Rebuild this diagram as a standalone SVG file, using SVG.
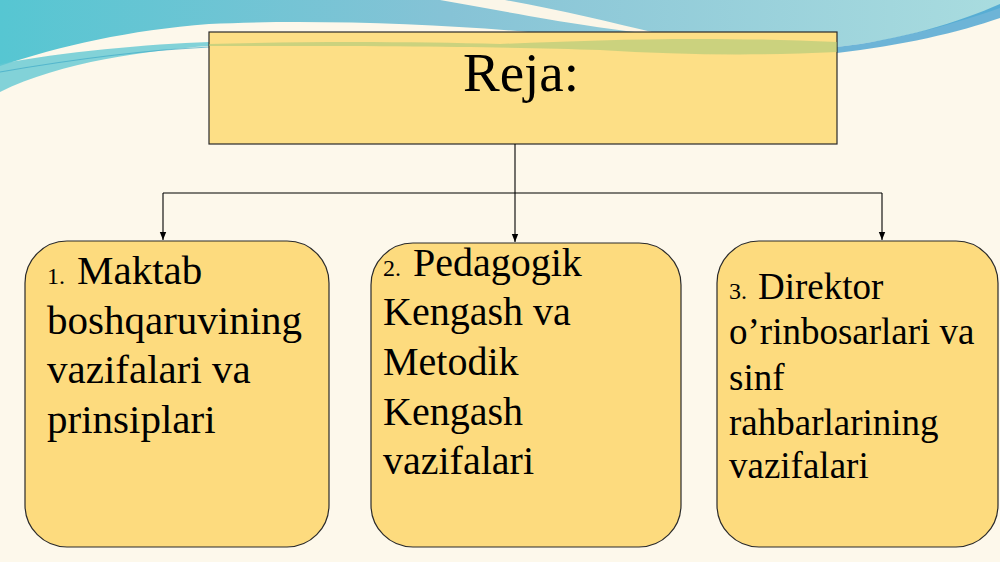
<svg xmlns="http://www.w3.org/2000/svg" width="1000" height="562" viewBox="0 0 1000 562">
  <defs>
    <linearGradient id="sky" x1="0" y1="0" x2="1" y2="0">
      <stop offset="0" stop-color="#56C6D2"/>
      <stop offset="0.45" stop-color="#86C3D6"/>
      <stop offset="1" stop-color="#A9DCDF"/>
    </linearGradient>
    <marker id="arr" viewBox="0 0 8 8" refX="8" refY="4" markerWidth="8" markerHeight="8" markerUnits="userSpaceOnUse" orient="auto">
      <path d="M0,0.8 L8,4 L0,7.2 Z" fill="#000"/>
    </marker>
    <style>
      .box { fill: #FDDB7E; stroke: #2a2a2a; stroke-width: 1.2; }
      .conn { fill: none; stroke: #000; stroke-width: 1.1; }
      .t { font-family: "Liberation Serif", "Times New Roman", serif; fill: #000; }
      .n1 { font-size: 41px; }
      .n2 { font-size: 40px; }
      .n3 { font-size: 37px; }
      .num { font-size: 24px; }
    </style>
  </defs>

  <!-- background -->
  <rect x="0" y="0" width="1000" height="562" fill="#FDF8EB"/>
  <path d="M0,0 H1000 V8 C960,22 900,40 837,47 L600,40 C500,26 330,18 209,24 C130,30 60,46 0,66 Z" fill="url(#sky)"/>
  <path d="M440,0 L505,0 C560,10 610,22 660,34 C600,30 520,14 440,0 Z" fill="#FBF6E8"/>
  <path d="M0,64 C60,52 150,44 209,42 L209,46 C150,50 60,62 0,92 Z" fill="#63C8D3" opacity="0.8"/>
  <path d="M0,72 C80,58 150,50 209,47" fill="none" stroke="#3FA9C8" stroke-width="1.2" opacity="0.7"/>
  <path d="M837,47 C900,40 960,22 1000,4 L1000,18 C960,32 900,46 837,53 Z" fill="#3C9ED0" opacity="0.75"/>

  <!-- title node -->
  <g id="title">
    <rect x="209" y="32" width="628" height="112" fill="#FDDF86" stroke="#2a2a2a" stroke-width="1.2"/>
    <path d="M209,44 C320,41 420,42 500,44 C600,40 700,36 837,42 L837,52 C760,56 680,55 600,50 C520,47 400,46 209,46 Z" fill="#A3C679" opacity="0.55"/>
    <text class="t" x="521" y="91" font-size="55" text-anchor="middle">Reja:</text>
  </g>

  <!-- connectors -->
  <g id="connectors">
    <path class="conn" d="M515,144 V242" marker-end="url(#arr)"/>
    <path class="conn" d="M163,193 H882"/>
    <path class="conn" d="M163,193 V240" marker-end="url(#arr)"/>
    <path class="conn" d="M882,193 V240" marker-end="url(#arr)"/>
  </g>

  <!-- node 1 -->
  <g id="node1">
    <rect class="box" x="25" y="241" width="304" height="306" rx="42" ry="42"/>
    <text class="t n1" y="284"><tspan class="num" x="47">1.</tspan><tspan x="77">Maktab</tspan></text>
    <text class="t n1" x="47" y="334">boshqaruvining</text>
    <text class="t n1" x="47" y="383">vazifalari va</text>
    <text class="t n1" x="47" y="433">prinsiplari</text>
  </g>

  <!-- node 2 -->
  <g id="node2">
    <rect class="box" x="371" y="243" width="310" height="304" rx="42" ry="42"/>
    <text class="t n2" y="276"><tspan class="num" x="383">2.</tspan><tspan x="413">Pedagogik</tspan></text>
    <text class="t n2" x="383" y="325">Kengash va</text>
    <text class="t n2" x="383" y="375">Metodik</text>
    <text class="t n2" x="383" y="425">Kengash</text>
    <text class="t n2" x="383" y="474">vazifalari</text>
  </g>

  <!-- node 3 -->
  <g id="node3">
    <rect class="box" x="717" y="241" width="281" height="306" rx="42" ry="42"/>
    <text class="t n3" y="299"><tspan class="num" x="729">3.</tspan><tspan x="758">Direktor</tspan></text>
    <text class="t n3" x="729" y="344">o’rinbosarlari va</text>
    <text class="t n3" x="729" y="390">sinf</text>
    <text class="t n3" x="729" y="435">rahbarlarining</text>
    <text class="t n3" x="729" y="478">vazifalari</text>
  </g>
</svg>
